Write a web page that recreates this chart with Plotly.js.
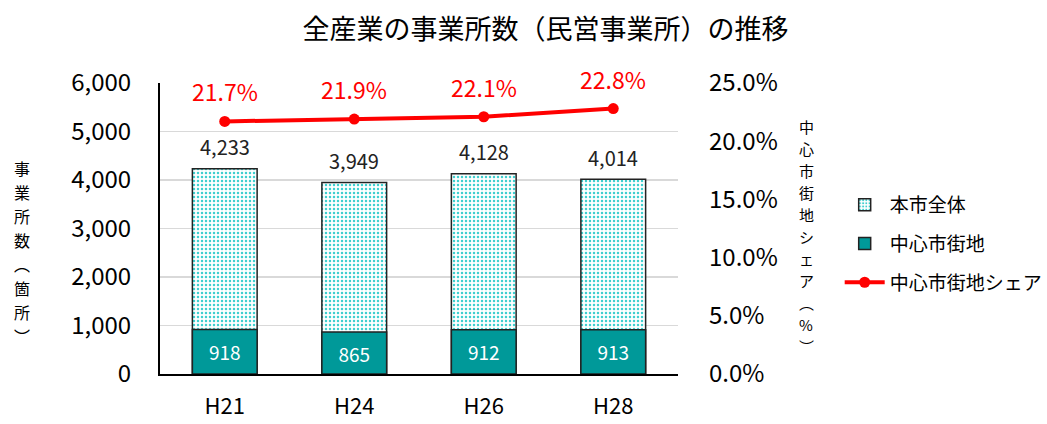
<!DOCTYPE html>
<html><head><meta charset="utf-8">
<script src="https://cdn.plot.ly/plotly-3.0.1.min.js"></script>
<style>body{margin:0;background:#fff}#c{width:1047px;height:424px}</style>
</head><body><div id="c"></div>
<script>
const categories = ['H21', 'H24', 'H26', 'H28'];
const totalCity = [4233, 3949, 4128, 4014];
const centralArea = [918, 865, 912, 913];
const centralShare = [21.7, 21.9, 22.1, 22.8];
const seriesNames = ['本市全体', '中心市街地', '中心市街地シェア'];
const leftTitle = '事業所数︵箇所︶';
const rightTitle = '中心市街地シェア︵%︶';

const FONT = 'Noto Sans CJK JP, Noto Sans, sans-serif';
const fmt = v => v.toLocaleString('en-US');

const traces = [
  {type:'bar', name:seriesNames[0], legendgroup:'a', x:categories, y:totalCity, width:0.5,
   marker:{color:'#ffffff', pattern:{shape:'.', fgcolor:'#3fcfcf', bgcolor:'#ffffff', size:4, solidity:0.3},
           line:{color:'#222', width:1.5}}, hoverinfo:'y'},
  {type:'bar', name:seriesNames[1], legendgroup:'b', x:categories, y:centralArea, width:0.5,
   marker:{color:'#009999', line:{color:'#222', width:1.5}},
   text:centralArea.map(fmt), textposition:'inside', insidetextanchor:'middle',
   textfont:{color:'#ffffff', size:19, family:FONT}, hoverinfo:'y'},
  {type:'scatter', name:seriesNames[2], legendgroup:'c', x:categories, y:centralShare, yaxis:'y2',
   mode:'lines+markers', line:{color:'#ff0000', width:4}, marker:{color:'#ff0000', size:11}}
];

const PL = 160, PW = 518, PT = 83, PH = 291;
const annotations = [];
categories.forEach((c,i)=>{
  annotations.push({x:c, y:totalCity[i], xref:'x', yref:'y', text:fmt(totalCity[i]), showarrow:false,
    yshift:22, font:{size:20, color:'#222', family:FONT}});
  annotations.push({x:c, y:centralShare[i], xref:'x', yref:'y2', text:centralShare[i].toFixed(1)+'%', showarrow:false,
    yshift:30, font:{size:23, color:'#ff0000', family:FONT}});
});
// vertical (upright) axis titles: one character per row
function vertical(str, xPx, topPx, size) {
  const step = Math.ceil(size * 1.46);
  Array.from(str).forEach((ch, i) => annotations.push({
    xref:'paper', yref:'paper', x:(xPx-PL)/PW, xanchor:'center', y:1, yanchor:'middle',
    yshift:-(topPx + i*step - PT), showarrow:false, text:ch,
    font:{size:size, color:'#000', family:FONT}}));
}
vertical(leftTitle, 22, 168, 16);
vertical(rightTitle, 806, 126, 15);

const layout = {
  width:1047, height:424,
  margin:{l:PL, r:1047-PL-PW, t:PT, b:424-PT-PH},
  paper_bgcolor:'#fff', plot_bgcolor:'#fff',
  font:{family:FONT, color:'#000'},
  title:{text:'全産業の事業所数（民営事業所）の推移', x:0.521, xanchor:'center', y:0.93, yanchor:'middle',
         font:{size:27, color:'#000', family:FONT}},
  barmode:'overlay',
  xaxis:{showline:true, linecolor:'#000', linewidth:2, ticks:'', tickfont:{size:22}, ticklabelstandoff:12, automargin:false},
  yaxis:{range:[0,6000], dtick:1000, tickformat:',d', showline:true, linecolor:'#000', linewidth:2, automargin:false,
         gridcolor:'#d9d9d9', gridwidth:1.5, zeroline:false, tickfont:{size:24}, ticks:'', ticklabelstandoff:22},
  yaxis2:{overlaying:'y', side:'right', range:[0,25], dtick:5, tickformat:'.1f', ticksuffix:'%', automargin:false,
          showgrid:false, zeroline:false, showline:false, tickfont:{size:24}, ticks:'', ticklabelstandoff:30},
  legend:{xref:'container', yref:'container', x:0.802, y:1-186/424, xanchor:'left', yanchor:'top',
          font:{size:19}, itemwidth:40, tracegroupgap:11, traceorder:'grouped'},
  annotations:annotations,
  showlegend:true
};
Plotly.newPlot('c', traces, layout, {displayModeBar:false, staticPlot:true});
</script></body></html>
